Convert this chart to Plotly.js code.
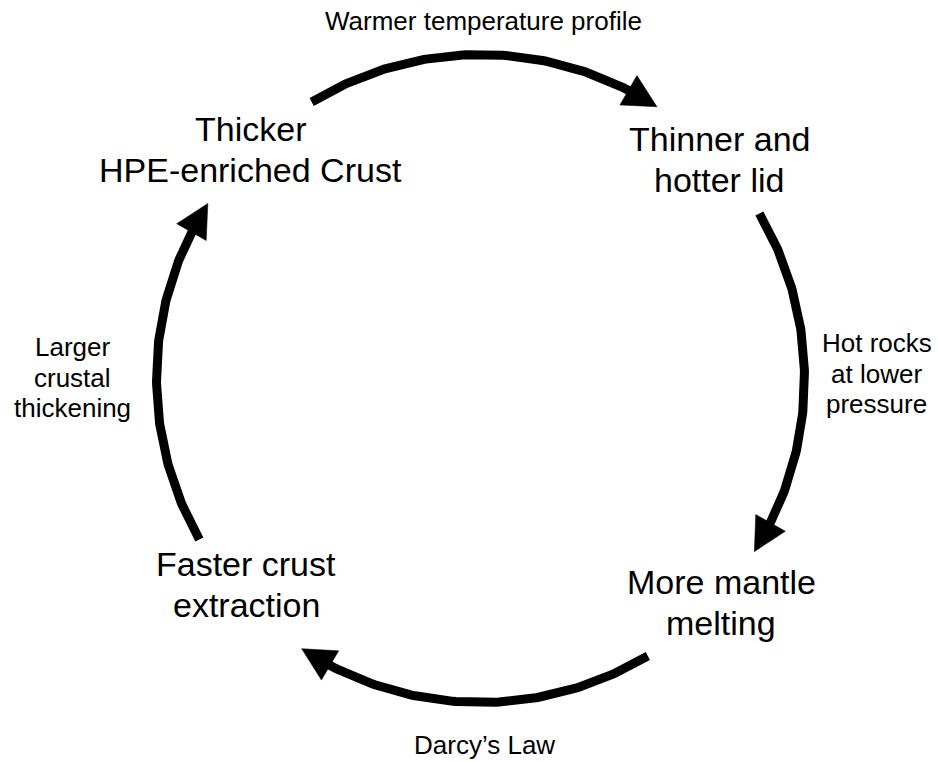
<!DOCTYPE html>
<html>
<head>
<meta charset="utf-8">
<script src="https://cdn.plot.ly/plotly-3.0.1.min.js"></script>
<style>html,body{margin:0;padding:0;background:#fff;}#chart{width:938px;height:762px;}</style>
</head>
<body>
<div id="chart"></div>
<script>
// ---- Diagram content ----
const nodeLines = [
  ["Thicker", "HPE-enriched Crust"],
  ["Thinner and", "hotter lid"],
  ["More mantle", "melting"],
  ["Faster crust", "extraction"]
];
const linkLines = [
  ["Warmer temperature profile"],
  ["Hot rocks", "at lower", "pressure"],
  ["Darcy\u2019s Law"],
  ["Larger", "crustal", "thickening"]
];
// arc start / end angles (degrees, counter-clockwise from east), arrows run clockwise
const arcStart = [121.4, 30.6, -58.9, 209.8];
const arcEnd   = [57.0, -32.3, -123.5, 147.3];

// ---- Layout / geometry (positions & styles) ----
const R = 324;
const lineW = 9, headLen = 33, headW = 34;
const bigFont = 34, smallFont = 26, bigGap = 41, smallGap = 30.5;
const nodePos = [[-230.5, 249.5], [238.5, 239.5], [240.5, -203.5], [-234.5, -185.5]];
const linkPos = [[2.5, 357.5], [396, 35.5], [3.5, -366.5], [-408, 31.5]];

function pt(deg) { const a = deg * Math.PI / 180; return [R * Math.cos(a), R * Math.sin(a)]; }

const traces = [];
const headDeg = headLen / R * 180 / Math.PI;
for (let i = 0; i < arcStart.length; i++) {
  const s = arcStart[i], e = arcEnd[i];
  const lineEnd = e + headDeg - 2;
  const xs = [], ys = [];
  const n = 120;
  for (let k = 0; k <= n; k++) {
    const p = pt(s + (lineEnd - s) * k / n);
    xs.push(p[0]); ys.push(p[1]);
  }
  traces.push({x: xs, y: ys, mode: 'lines', line: {color: '#000', width: lineW}, hoverinfo: 'skip', showlegend: false});
  const T = pt(e), B = pt(e + headDeg);
  let dx = T[0] - B[0], dy = T[1] - B[1];
  const L = Math.hypot(dx, dy); dx /= L; dy /= L;
  const nx = -dy, ny = dx;
  const c1 = [B[0] + nx * headW / 2, B[1] + ny * headW / 2];
  const c2 = [B[0] - nx * headW / 2, B[1] - ny * headW / 2];
  traces.push({x: [c1[0], T[0], c2[0], c1[0]], y: [c1[1], T[1], c2[1], c1[1]], mode: 'lines', fill: 'toself',
    fillcolor: '#000', line: {color: '#000', width: 0.5}, hoverinfo: 'skip', showlegend: false});
}

const annotations = [];
function addLines(lines, pos, size, gap) {
  lines.forEach((t, j) => {
    annotations.push({x: pos[0], y: pos[1] - j * gap, xref: 'x', yref: 'y', text: t, showarrow: false,
      xanchor: 'center', yanchor: 'middle', font: {family: 'Liberation Sans, Arial, sans-serif', size: size, color: '#000'}});
  });
}
nodeLines.forEach((l, i) => addLines(l, nodePos[i], bigFont, bigGap));
linkLines.forEach((l, i) => addLines(l, linkPos[i], smallFont, smallGap));

const layout = {
  width: 938, height: 762,
  margin: {l: 0, r: 0, t: 0, b: 0, pad: 0},
  paper_bgcolor: '#fff', plot_bgcolor: '#fff',
  xaxis: {range: [-480.5, 457.5], visible: false, fixedrange: true},
  yaxis: {range: [-383.5, 378.5], visible: false, fixedrange: true},
  showlegend: false,
  annotations: annotations
};
Plotly.newPlot('chart', traces, layout, {displayModeBar: false, staticPlot: true});
</script>
</body>
</html>
